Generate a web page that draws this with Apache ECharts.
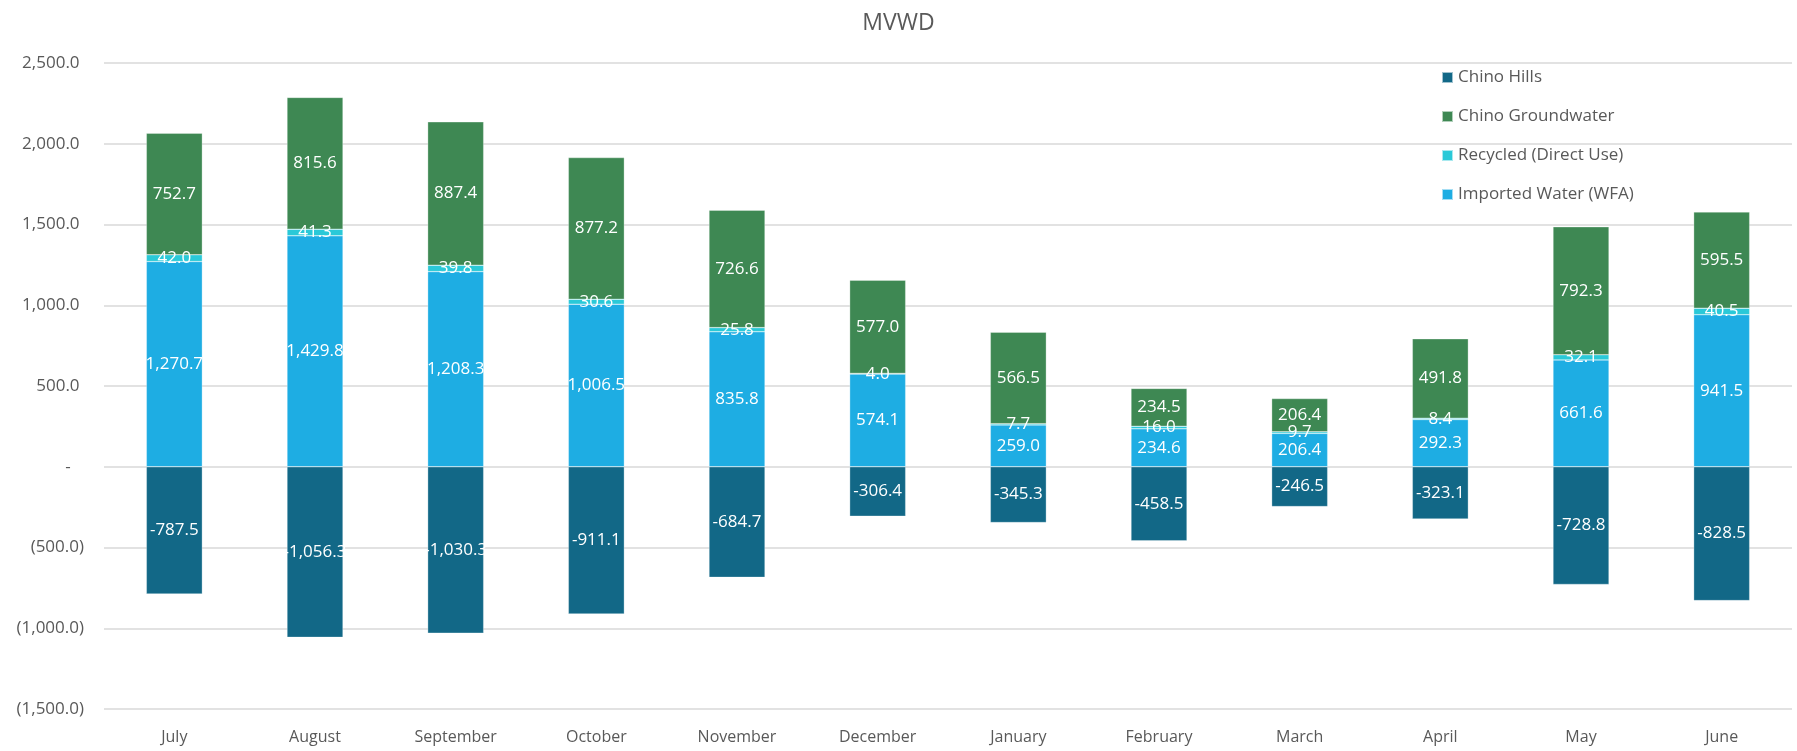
<!DOCTYPE html>
<html>
<head>
<meta charset="utf-8">
<script src="https://cdn.jsdelivr.net/npm/echarts@6/dist/echarts.min.js"></script>
<style>
  html, body { margin: 0; padding: 0; background: #fff; }
  #chart { width: 1797px; height: 751px; }
</style>
</head>
<body>
<div id="chart"></div>
<script>
// 月份
const months = ['July', 'August', 'September', 'October', 'November', 'December',
  'January', 'February', 'March', 'April', 'May', 'June'];

// 各水源数据
const chinoHills = [-787.5, -1056.3, -1030.3, -911.1, -684.7, -306.4, -345.3, -458.5, -246.5, -323.1, -728.8, -828.5];
const chinoGroundwater = [752.7, 815.6, 887.4, 877.2, 726.6, 577.0, 566.5, 234.5, 206.4, 491.8, 792.3, 595.5];
const recycled = [42.0, 41.3, 39.8, 30.6, 25.8, 4.0, 7.7, 16.0, 9.7, 8.4, 32.1, 40.5];
const importedWater = [1270.7, 1429.8, 1208.3, 1006.5, 835.8, 574.1, 259.0, 234.6, 206.4, 292.3, 661.6, 941.5];

const fmt1 = v => Math.abs(v).toLocaleString('en-US', { minimumFractionDigits: 1, maximumFractionDigits: 1 });

const axisLabelFmt = v => {
  if (v === 0) return '-   ';
  if (v < 0) return '(' + fmt1(v) + ')';
  return fmt1(v) + ' ';
};

const barLabel = {
  show: true,
  position: 'inside',
  color: '#fff',
  fontSize: 17,
  fontFamily: 'Open Sans',
  formatter: p => (p.value < 0 ? '-' : '') + fmt1(p.value)
};

const makeSeries = (name, data, color) => ({
  name: name,
  type: 'bar',
  stack: 'total',
  barWidth: 56,
  data: data,
  itemStyle: { color: color, borderColor: 'rgba(255,255,255,0.6)', borderWidth: 0.5 },
  label: barLabel
});

const myChart = echarts.init(document.getElementById('chart'));

myChart.setOption({
  animation: false,
  title: {
    text: 'MVWD',
    left: 'center',
    top: 7,
    textStyle: { color: '#595959', fontSize: 23, fontWeight: 'normal', fontFamily: 'Open Sans' }
  },
  legend: {
    orient: 'vertical',
    left: 1436,
    top: 64,
    itemWidth: 11,
    itemHeight: 11,
    itemGap: 22,
    icon: 'rect',
    data: ['Chino Hills', 'Chino Groundwater', 'Recycled (Direct Use)', 'Imported Water (WFA)'],
    textStyle: { color: '#595959', fontSize: 17, fontFamily: 'Open Sans' }
  },
  grid: { left: 104, right: 5, top: 63, bottom: 42 },
  xAxis: {
    type: 'category',
    data: months,
    axisLine: { show: false },
    axisTick: { show: false },
    axisLabel: { color: '#595959', fontSize: 16, fontFamily: 'Open Sans', margin: 20 }
  },
  yAxis: {
    type: 'value',
    min: -1500,
    max: 2500,
    interval: 500,
    axisLine: { show: false },
    axisTick: { show: false },
    splitLine: { lineStyle: { color: '#d9d9d9', width: 1.5 } },
    axisLabel: { color: '#595959', fontSize: 17, fontFamily: 'Open Sans', margin: 20, formatter: axisLabelFmt }
  },
  series: [
    makeSeries('Imported Water (WFA)', importedWater, '#1eade3'),
    makeSeries('Recycled (Direct Use)', recycled, '#2ac9d8'),
    makeSeries('Chino Groundwater', chinoGroundwater, '#3e8853'),
    makeSeries('Chino Hills', chinoHills, '#126887')
  ]
});
</script>
</body>
</html>
